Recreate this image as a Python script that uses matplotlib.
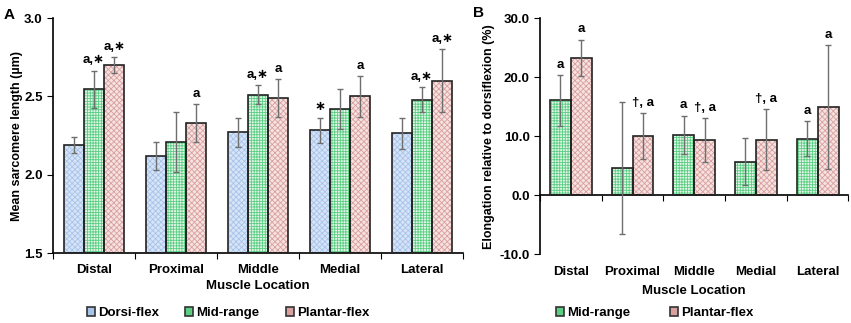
import numpy as np
import matplotlib.pyplot as plt
from matplotlib.patches import Patch
from matplotlib.transforms import blended_transform_factory

plt.rcParams['font.family'] = ['Liberation Sans', 'DejaVu Sans']
plt.rcParams['font.weight'] = 'bold'
plt.rcParams['hatch.linewidth'] = 0.6

locations = ['Distal', 'Proximal', 'Middle', 'Medial', 'Lateral']

# Painel A: comprimento medio do sarcomero (um)
dorsi = [2.19, 2.12, 2.27, 2.285, 2.265]
dorsi_err = [0.05, 0.09, 0.09, 0.08, 0.10]
mid = [2.545, 2.21, 2.51, 2.42, 2.48]
mid_err = [0.12, 0.19, 0.06, 0.13, 0.08]
plantar = [2.70, 2.33, 2.49, 2.50, 2.60]
plantar_err = [0.05, 0.12, 0.12, 0.13, 0.20]
notes_a = {
    'dorsi': ['', '', '', '∗', ''],
    'mid': ['a,∗', '', 'a,∗', '', 'a,∗'],
    'plantar': ['a,∗', 'a', 'a', 'a', 'a,∗'],
}

# Painel B: alongamento relativo a dorsiflexao (%)
mid_el = [16.1, 4.6, 10.2, 5.7, 9.6]
mid_el_err = [4.3, 11.2, 3.3, 4.0, 2.9]
plantar_el = [23.3, 9.95, 9.4, 9.4, 14.9]
plantar_el_err = [3.1, 3.9, 3.7, 5.2, 10.5]
notes_b = {
    'mid': ['a', '', 'a', '', 'a'],
    'plantar': ['a', '†, a', '†, a', '†, a', 'a'],
}

styles = {
    'dorsi': ('#d6e4f7', '#a8c3ea', 'xxxxxx'),
    'mid': ('#e2f6e7', '#5cce84', '++++++'),
    'plantar': ('#f5e2e1', '#d9a09e', 'xxxxxx'),
}
labels = {'dorsi': 'Dorsi-flex', 'mid': 'Mid-range', 'plantar': 'Plantar-flex'}
err_color = '#6e6e6e'


def draw_bars(ax, x, vals, errs, key, width):
    face, hcol, hatch = styles[key]
    ax.bar(x, vals, width, color=face, edgecolor=hcol, hatch=hatch, linewidth=0, zorder=2)
    ax.bar(x, vals, width, fill=False, edgecolor='#222222', linewidth=1.2, zorder=3)
    ax.errorbar(x, vals, yerr=errs, fmt='none', ecolor=err_color, elinewidth=1,
                capsize=2.5, capthick=1, zorder=4)


def annotate(ax, x, vals, errs, notes):
    for xi, v, e, t in zip(x, vals, errs, notes):
        if t:
            ax.annotate(t, (xi, v + e), xytext=(0, 3), textcoords='offset points',
                        ha='center', va='bottom', fontsize=9.5, fontweight='bold')


def legend_handle(key):
    face, hcol, hatch = styles[key]
    return Patch(facecolor=hcol, edgecolor='#333333', linewidth=1.2, label=labels[key])


fig = plt.figure(figsize=(8.51, 3.23), dpi=100)
axA = fig.add_axes([0.0623, 0.2167, 0.4817, 0.7273])
axB = fig.add_axes([0.6345, 0.2136, 0.3625, 0.7296])

idx = np.arange(len(locations))
centers = idx + 0.5

# ---- Painel A ----
w = 0.247
for off, key, vals, errs in [(-w, 'dorsi', dorsi, dorsi_err),
                             (0, 'mid', mid, mid_err),
                             (w, 'plantar', plantar, plantar_err)]:
    draw_bars(axA, centers + off, vals, errs, key, w)
    annotate(axA, centers + off, vals, errs, notes_a[key])

axA.set_xlim(0, 5)
axA.set_ylim(1.5, 3.0)
axA.set_yticks([1.5, 2.0, 2.5, 3.0])
axA.set_yticklabels(['1.5', '2.0', '2.5', '3.0'])
axA.set_xticks(np.arange(6))
axA.set_xticklabels([])
axA.set_xticks(centers, minor=True)
axA.set_xticklabels(locations, minor=True)
axA.tick_params(axis='x', which='minor', length=0, pad=8, labelsize=9.5)
axA.tick_params(axis='x', which='major', length=4, direction='out')
axA.tick_params(axis='y', length=4, labelsize=9.5)
axA.set_ylabel('Mean sarcomere length (µm)', fontsize=9, fontweight='bold', labelpad=1)
axA.set_xlabel('Muscle Location', fontsize=9.5, fontweight='bold', labelpad=3)
for s in ['top', 'right']:
    axA.spines[s].set_visible(False)
for s in ['left', 'bottom']:
    axA.spines[s].set_linewidth(1.2)

axA.legend(handles=[legend_handle(k) for k in ['dorsi', 'mid', 'plantar']],
           loc='center', bbox_to_anchor=(0.268, 0.03), bbox_transform=fig.transFigure,
           ncol=3, frameon=False, fontsize=9.5, handlelength=0.6, handleheight=0.6,
           handletextpad=0.25, columnspacing=2.0)

# ---- Painel B ----
wb = 0.34
for off, key, vals, errs in [(-wb / 2, 'mid', mid_el, mid_el_err),
                             (wb / 2, 'plantar', plantar_el, plantar_el_err)]:
    draw_bars(axB, centers + off, vals, errs, key, wb)
    annotate(axB, centers + off, vals, errs, notes_b[key])

axB.set_xlim(0, 5)
axB.set_ylim(-10, 30)
axB.set_yticks([-10, 0, 10, 20, 30])
axB.set_yticklabels(['-10.0', '0.0', '10.0', '20.0', '30.0'])
axB.spines['bottom'].set_position(('data', 0))
axB.set_xticks(np.arange(6))
axB.set_xticklabels([])
axB.tick_params(axis='x', length=4, direction='out')
axB.tick_params(axis='y', length=4, labelsize=9.5)
trans = blended_transform_factory(axB.transData, axB.transAxes)
for c, name in zip(centers, locations):
    axB.text(c, -0.05, name, transform=trans, ha='center', va='top', fontsize=9.5, fontweight='bold')
axB.text(2.5, -0.13, 'Muscle Location', transform=trans, ha='center', va='top',
         fontsize=9.5, fontweight='bold')
axB.set_ylabel('Elongation relative to dorsiflexion (%)', fontsize=9, fontweight='bold', labelpad=3)
for s in ['top', 'right']:
    axB.spines[s].set_visible(False)
for s in ['left', 'bottom']:
    axB.spines[s].set_linewidth(1.2)

axB.legend(handles=[legend_handle(k) for k in ['mid', 'plantar']],
           loc='center', bbox_to_anchor=(0.769, 0.03), bbox_transform=fig.transFigure,
           ncol=2, frameon=False, fontsize=9.5, handlelength=0.6, handleheight=0.6,
           handletextpad=0.25, columnspacing=3.0)

fig.text(0.004, 0.975, 'A', fontsize=11, fontweight='bold', va='top')
fig.text(0.556, 0.98, 'B', fontsize=11, fontweight='bold', va='top')

fig.savefig('out.png', dpi=100)
